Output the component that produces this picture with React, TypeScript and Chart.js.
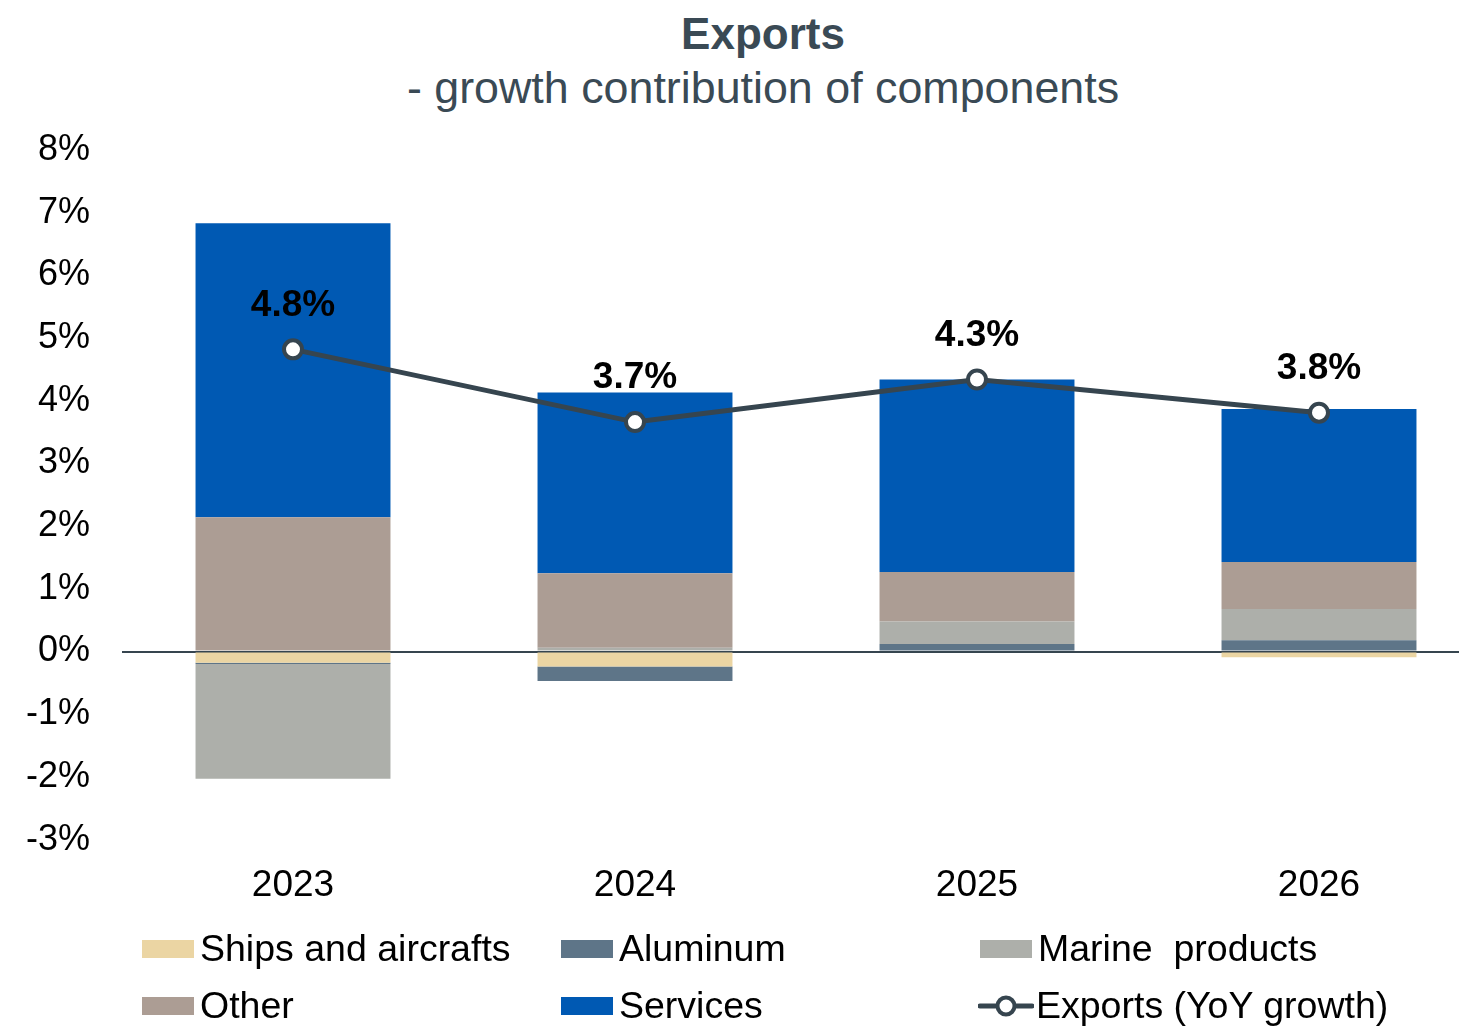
import React, { useEffect, useRef } from "react";
import { Chart, registerables } from "chart.js";

Chart.register(...registerables);

const categories = ["2023", "2024", "2025", "2026"];
const shipsAircrafts = [-0.18, -0.24, 0.0, -0.09];
const aluminum = [-0.02, -0.23, 0.12, 0.18];
const marineProducts = [-1.83, 0.06, 0.36, 0.5];
const other = [2.14, 1.19, 0.79, 0.75];
const services = [4.69, 2.88, 3.07, 2.44];
const exportsGrowth = [4.82, 3.66, 4.34, 3.81];
const yTicks = [8, 7, 6, 5, 4, 3, 2, 1, 0, -1, -2, -3];

const FONT = '"Liberation Sans", Arial, sans-serif';
const C_SHIPS = "#ebd5a3";
const C_ALU = "#5e7588";
const C_MARINE = "#adafaa";
const C_OTHER = "#ac9d94";
const C_SERV = "#0059b3";
const C_LINE = "#36454f";
const C_TITLE = "#3a4a55";

const labelPlugin = {
  id: "pointLabels",
  afterDatasetsDraw(chart: any) {
    const idx = chart.data.datasets.findIndex((d: any) => d.type === "line");
    if (idx < 0) return;
    const meta = chart.getDatasetMeta(idx);
    const ctx = chart.ctx;
    ctx.save();
    ctx.font = `bold 37px ${FONT}`;
    ctx.fillStyle = "#000";
    ctx.textAlign = "center";
    ctx.textBaseline = "middle";
    meta.data.forEach((el: any, i: number) => {
      const v = chart.data.datasets[idx].data[i];
      ctx.fillText(`${v.toFixed(1)}%`, el.x, el.y - 44);
    });
    ctx.restore();
  },
};

function LegendBox({ color, label }: { color: string; label: string }) {
  return (
    <div style={{ display: "flex", alignItems: "center" }}>
      <div style={{ width: 52, height: 18, background: color, marginRight: 6 }} />
      <span style={{ whiteSpace: "pre" }}>{label}</span>
    </div>
  );
}

function LegendLine({ label }: { label: string }) {
  return (
    <div style={{ display: "flex", alignItems: "center" }}>
      <svg width={56} height={24} style={{ marginRight: 2, marginLeft: -2 }}>
        <line x1={2} y1={12} x2={54} y2={12} stroke={C_LINE} strokeWidth={5} strokeLinecap="round" />
        <circle cx={28} cy={12} r={8.5} fill="#fff" stroke={C_LINE} strokeWidth={4} />
      </svg>
      <span style={{ whiteSpace: "pre" }}>{label}</span>
    </div>
  );
}

export default function App() {
  const ref = useRef<HTMLCanvasElement | null>(null);

  useEffect(() => {
    document.body.style.margin = "0";
    if (!ref.current) return;
    const chart = new Chart(ref.current, {
      type: "bar",
      data: {
        labels: categories,
        datasets: [
          { type: "line", label: "Exports (YoY growth)", data: exportsGrowth, borderColor: C_LINE, borderWidth: 5, pointRadius: 9, pointBorderWidth: 4, pointBackgroundColor: "#fff", pointBorderColor: C_LINE, stack: "line", order: 0, tension: 0 } as any,
          { label: "Ships and aircrafts", data: shipsAircrafts, backgroundColor: C_SHIPS, stack: "bars", order: 1 },
          { label: "Aluminum", data: aluminum, backgroundColor: C_ALU, stack: "bars", order: 1 },
          { label: "Marine  products", data: marineProducts, backgroundColor: C_MARINE, stack: "bars", order: 1 },
          { label: "Other", data: other, backgroundColor: C_OTHER, stack: "bars", order: 1 },
          { label: "Services", data: services, backgroundColor: C_SERV, stack: "bars", order: 1 },
        ],
      },
      options: {
        responsive: false,
        animation: false,
        layout: { padding: { top: 150, left: 0, right: 0, bottom: 0 } },
        datasets: { bar: { categoryPercentage: 1, barPercentage: 0.57 } } as any,
        plugins: {
          legend: { display: false },
          title: { display: false },
          tooltip: { enabled: false },
        },
        scales: {
          x: {
            stacked: true,
            grid: { display: false },
            border: { display: false },
            ticks: { font: { family: FONT, size: 37 }, color: "#000", padding: 16 },
          },
          y: {
            stacked: true,
            min: -3,
            max: 8,
            afterBuildTicks: (axis: any) => {
              axis.ticks = yTicks.map((v) => ({ value: v }));
            },
            afterFit: (axis: any) => {
              axis.width = 122;
            },
            grid: {
              drawTicks: false,
              color: (c: any) => (c.tick && c.tick.value === 0 ? C_LINE : "transparent"),
              lineWidth: 2,
            },
            border: { display: false },
            ticks: {
              font: { family: FONT, size: 36 },
              color: "#000",
              padding: 32,
              callback: (v: any) => `${v}%`,
            },
          },
        },
      },
      plugins: [labelPlugin],
    });
    return () => chart.destroy();
  }, []);

  return (
    <div style={{ position: "relative", width: 1459, height: 1029, overflow: "hidden", fontFamily: FONT, background: "#fff" }}>
      <div style={{ position: "absolute", left: 0, width: 1526, top: 8, textAlign: "center", color: C_TITLE, fontSize: 44, lineHeight: "52px", fontWeight: "bold" }}>
        Exports
      </div>
      <div style={{ position: "absolute", left: 0, width: 1526, top: 59, textAlign: "center", color: C_TITLE, fontSize: 44.8, lineHeight: "56px" }}>
        - growth contribution of components
      </div>
      <canvas ref={ref} width={1503} height={924} style={{ position: "absolute", left: 0, top: 0 }} />
      <div style={{ position: "absolute", left: 142, top: 920, display: "grid", gridTemplateColumns: "419px 419px 419px", gridAutoRows: "57px", fontSize: 37.5, color: "#000", alignItems: "center" }}>
        <LegendBox color={C_SHIPS} label="Ships and aircrafts" />
        <LegendBox color={C_ALU} label="Aluminum" />
        <LegendBox color={C_MARINE} label="Marine  products" />
        <LegendBox color={C_OTHER} label="Other" />
        <LegendBox color={C_SERV} label="Services" />
        <LegendLine label="Exports (YoY growth)" />
      </div>
    </div>
  );
}
